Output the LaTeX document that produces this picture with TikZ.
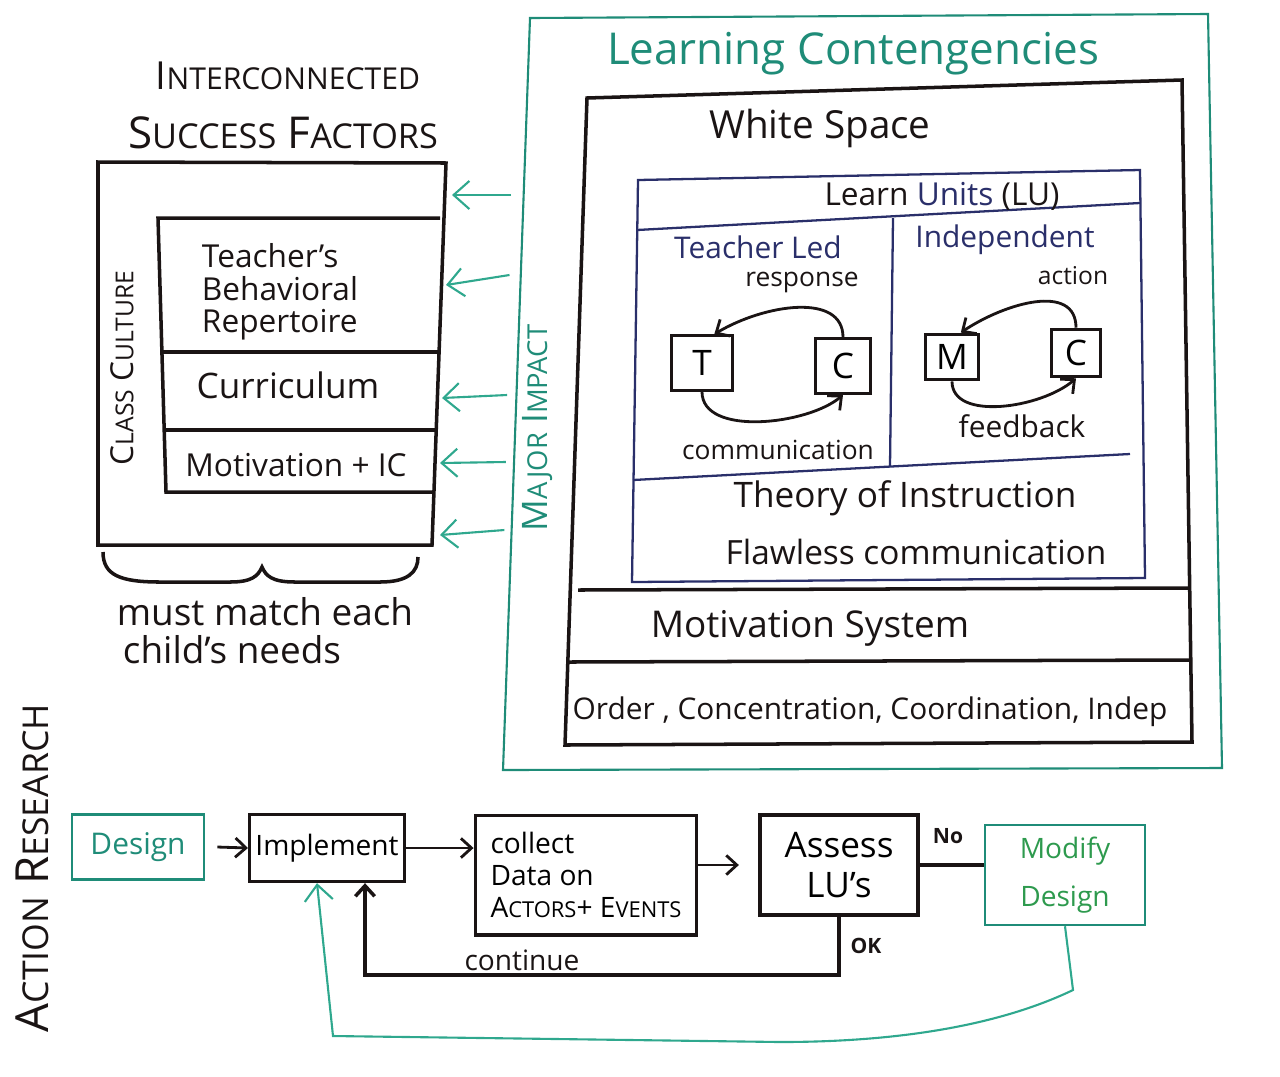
\documentclass[tikz,border=0pt]{standalone}
\usepackage{fontspec}
\setmainfont{Open Sans}
\usepackage{graphicx}
\usetikzlibrary{arrows.meta,positioning,calc}
\definecolor{lcteal}{HTML}{1F8C78}
\definecolor{lcgreen}{HTML}{2E9A4E}
\definecolor{lcaqua}{HTML}{2FA88E}
\definecolor{lcnavy}{HTML}{2A2F6A}
\definecolor{lcink}{HTML}{1A1414}
\newcommand\fsz[2]{\fontsize{#1}{#2}\selectfont}
\newcommand\smc[2]{#1\scalebox{0.78}{#2}}

\begin{document}
\begin{tikzpicture}[x=0.02cm,y=-0.02cm,
    ink/.style={draw=lcink,line width=2pt},
    luline/.style={draw=lcnavy,line width=1.3pt},
    tealline/.style={draw=lcteal,line width=1.2pt},
    lbl/.style={inner sep=0pt,text=lcink},
    loopbox/.style={draw=lcink,line width=1.8pt,inner sep=0pt,font=\fsz{20}{22}},
    flowbox/.style={draw=lcink,line width=2pt,inner sep=0pt},
    barb/.style={-{Straight Barb[length=6pt,width=11pt]}}]
  \useasboundingbox (0,0) rectangle (1280,1076);

  % ---- Success factors -----------------------------------------
  \node[lbl,font=\fsz{22}{24}] (inter) at (288,76) {\smc{I}{NTERCONNECTED}};
  \node[lbl,font=\fsz{25}{27}] (success) at (283,133) {\smc{S}{UCCESS} \smc{F}{ACTORS}};
  \draw[ink] (98,162) -- (446,163) -- (432,545) -- (98,545) -- cycle;
  \draw[ink] (440,218) -- (158,218) -- (166,492) -- (433,492);
  \draw[ink] (161,352) -- (438,352);
  \draw[ink] (164,430) -- (435,430);
  \node[lbl,font=\fsz{18}{19},rotate=90] (culture) at (122,368) {\smc{C}{LASS} \smc{C}{ULTURE}};
  \node[lbl,font=\fsz{18}{18.5},align=left] (repertoire) at (280,292) {Teacher's\\Behavioral\\Repertoire};
  \node[lbl,font=\fsz{20}{22}] (curriculum) at (288,385) {Curriculum};
  \node[lbl,font=\fsz{18}{20}] (motivic) at (296,465) {Motivation + IC};
  \draw[ink] (103,552) .. controls (103,575) and (120,582) .. (160,582) -- (230,582)
    .. controls (252,582) and (258,576) .. (262,567) .. controls (266,576) and (272,582) .. (295,582)
    -- (380,582) .. controls (408,582) and (418,572) .. (418,557);
  \node[lbl,font=\fsz{21}{23}] (mustmatch) at (265,612) {must match each};
  \node[lbl,font=\fsz{21}{23}] (needs) at (232,650) {child's needs};

  % ---- Learning contingencies ------------------------------------
  \draw[tealline] (530,18) -- (1208,14) -- (1222,768) -- (503,770) -- cycle;
  \node[lbl,font=\fsz{25}{27},text=lcteal] (contingencies) at (853,54) {Learning Contengencies};
  \node[lbl,font=\fsz{20}{22},text=lcteal,rotate=90] (impact) at (538,428) {\smc{M}{AJOR} \smc{I}{MPACT}};
  \foreach \ya/\yb/\xt in {195/195/452, 275/285/446, 395/398/442, 462/463/440, 530/535/440}
    \draw[lcaqua,line width=1.2pt,-{Straight Barb[length=9pt,width=16pt]}] (515-\ya/50,\ya) -- (\xt,\yb);

  \draw[ink] (587,98) -- (1182,80) -- (1192,742) -- (565,745) -- cycle;
  \draw[ink] (578,590) -- (1188,588);
  \draw[ink] (569,662) -- (1190,660);
  \node[lbl,font=\fsz{22}{24}] (whitespace) at (820,128) {White Space};

  % ---- Learn units -----------------------------------------------
  \draw[luline] (638,180) -- (1140,170) -- (1145,578) -- (632,582) -- cycle;
  \draw[luline] (637,230) -- (1140,203);
  \draw[luline] (893,218) -- (890,466);
  \draw[luline] (633,480) -- (1130,454);
  \node[lbl,font=\fsz{18}{20}] (learnunits) at (942,196) {Learn \textcolor{lcnavy}{Units} (LU)};
  \node[lbl,font=\fsz{17}{19},text=lcnavy] (teacherled) at (758,247) {Teacher Led};
  \node[lbl,font=\fsz{15}{17}] (response) at (802,282) {response};
  \node[lbl,font=\fsz{17}{19},text=lcnavy] (independent) at (1005,240) {Independent};
  \node[lbl,font=\fsz{14}{16}] (action) at (1073,276) {action};

  \node[loopbox,minimum width=35pt,minimum height=31pt] (teacher) at (702,363) {T};
  \node[loopbox,minimum width=31pt,minimum height=31pt] (child) at (843,366) {C};
  \node[loopbox,minimum width=30pt,minimum height=26pt] (material) at (952,357) {M};
  \node[loopbox,minimum width=28pt,minimum height=27pt] (learner) at (1076,353) {C};
  \draw[ink,line width=1.6pt,barb] (child.north) .. controls +(0,-45) and +(50,-30) .. ([xshift=7pt]teacher.north);
  \draw[ink,line width=1.6pt,barb] (teacher.south) .. controls +(0,45) and +(-35,30) .. (child.south);
  \draw[ink,line width=1.6pt,barb] (learner.north) .. controls +(0,-45) and +(45,-30) .. ([xshift=5pt]material.north);
  \draw[ink,line width=1.6pt,barb] (material.south) .. controls +(0,40) and +(-35,30) .. (learner.south);
  \node[lbl,font=\fsz{15}{17}] (communication) at (778,450) {communication};
  \node[lbl,font=\fsz{17}{19}] (feedback) at (1022,426) {feedback};
  \node[lbl,font=\fsz{20}{22}] (theory) at (905,498) {Theory of Instruction};
  \node[lbl,font=\fsz{19}{21}] (flawless) at (916,552) {Flawless communication};
  \node[lbl,font=\fsz{21}{23}] (motivsys) at (810,628) {Motivation System};
  \node[lbl,font=\fsz{17}{19}] (order) at (870,712) {Order , Concentration, Coordination, Indep};

  % ---- Action research -------------------------------------------
  \node[lbl,font=\fsz{26}{28},rotate=90] (research) at (32,868) {\smc{A}{CTION} \smc{R}{ESEARCH}};
  \node[flowbox,draw=lcteal,line width=1.3pt,minimum width=75pt,minimum height=37pt,
    font=\fsz{17}{19},text=lcteal] (design) at (138,847) {Design};
  \node[flowbox,minimum width=88pt,minimum height=38pt,font=\fsz{16}{18}] (implement) at (327,848) {Implement};
  \node[flowbox,minimum width=126pt,minimum height=68pt,font=\fsz{16}{18},align=left] (collect) at (586,875)
    {collect\\ Data on\\\smc{A}{CTORS}+ \smc{E}{VENTS}};
  \node[flowbox,minimum width=90pt,minimum height=57pt,font=\fsz{20}{23},align=center] (assess) at (839,865)
    {Assess\\LU's};
  \node[flowbox,draw=lcteal,line width=1.3pt,minimum width=91pt,minimum height=57pt,
    font=\fsz{16}{27},text=lcgreen,align=center] (modify) at (1065,875) {Modify\\Design};

  \draw[ink,line width=1.6pt,barb] ([xshift=7pt]design.east) -- (implement.west);
  \draw[ink,line width=1.6pt,barb] (implement.east) -- (implement.east -| collect.west);
  \draw[ink,line width=1.6pt,barb] (collect.east |- assess.west) -- ([xshift=-11pt]assess.west);
  \draw[ink] (assess.east) -- (assess.east -| modify.west);
  \node[lbl,font=\bfseries\fsz{12}{14}] (no) at (948,836) {No};

  \coordinate (cont) at ($(implement.south)+(38,92)$);
  \draw[ink,barb] (assess.south) |- (cont) -- (cont |- implement.south);
  \node[lbl,font=\bfseries\fsz{12}{14}] (ok) at (866,946) {OK};
  \node[lbl,font=\fsz{16}{18}] (continue) at (522,960) {continue};

  \coordinate (loopdown) at (1073,990);
  \coordinate (loopcorner) at (333,1036);
  \draw[lcaqua,line width=1.2pt,-{Straight Barb[length=9pt,width=16pt]}] (modify.south) -- (loopdown)
    .. controls (1000,1025) and (900,1042) .. (780,1042) -- (loopcorner) -- ($(implement.south)+(-10,0)$);
\end{tikzpicture}
\end{document}
